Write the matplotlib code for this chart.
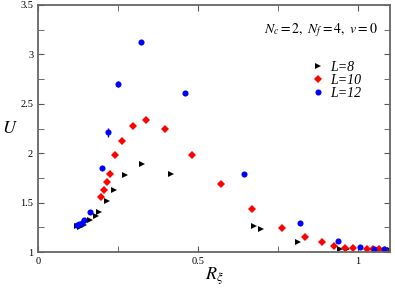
import matplotlib.pyplot as plt
from matplotlib.ticker import MultipleLocator, FormatStrFormatter
from matplotlib.lines import Line2D

# L=8 (black triangles)
x8 = [0.122, 0.131, 0.144, 0.162, 0.181, 0.191, 0.216, 0.237, 0.272, 0.324,
      0.415, 0.674, 0.697, 0.813, 0.943, 0.967, 1.1]
y8 = [1.26, 1.25, 1.27, 1.32, 1.364, 1.408, 1.52, 1.627, 1.776, 1.89,
      1.79, 1.262, 1.229, 1.10, 1.035, 1.03, 1.017]

# L=10 (red diamonds)
x10 = [0.198, 0.207, 0.215, 0.225, 0.242, 0.264, 0.296, 0.339, 0.398, 0.48,
       0.572, 0.668, 0.764, 0.833, 0.887, 0.925, 0.96, 0.985, 1.029, 1.047,
       1.065, 1.085]
y10 = [1.56, 1.63, 1.71, 1.79, 1.98, 2.128, 2.28, 2.34, 2.245, 1.98,
       1.688, 1.433, 1.242, 1.147, 1.10, 1.06, 1.045, 1.038, 1.03, 1.028,
       1.027, 1.025]

# L=12 (blue circles)
x12 = [0.121, 0.128, 0.136, 0.144, 0.162, 0.2015, 0.218, 0.25, 0.321, 0.46,
       0.643, 0.819, 0.938, 1.005, 1.05, 1.081]
y12 = [1.27, 1.28, 1.296, 1.32, 1.40, 1.847, 2.21, 2.70, 3.13, 2.61,
       1.786, 1.296, 1.116, 1.05, 1.03, 1.027]
e12 = [0.005, 0.005, 0.005, 0.01, 0.01, 0.02, 0.05, 0.035, 0.02, 0.015,
       0.01, 0.01, 0.005, 0.005, 0.005, 0.005]

labels = ['L=8', 'L=10', 'L=12']

plt.rcParams['font.family'] = ['Liberation Serif', 'DejaVu Serif']
plt.rcParams['mathtext.fontset'] = 'stix'

fig = plt.figure(figsize=(3.95, 2.92), dpi=100)
ax = fig.add_axes([38 / 395, 1 - 252 / 292, 352 / 395, 247 / 292])

ax.plot(x8, y8, '>', color='black', ms=4, mew=0)
ax.plot(x10, y10, 'D', color='red', ms=3.6, mew=0)
ax.errorbar(x12, y12, yerr=e12, fmt='o', color='blue', ms=4.4, mew=0,
            elinewidth=1, capsize=1.2)

ax.set_xlim(0, 1.1)
ax.set_ylim(1, 3.5)
ax.xaxis.set_major_locator(MultipleLocator(0.5))
ax.xaxis.set_minor_locator(MultipleLocator(0.25))
ax.yaxis.set_major_locator(MultipleLocator(0.5))
ax.yaxis.set_minor_locator(MultipleLocator(0.25))
ax.xaxis.set_major_formatter(FormatStrFormatter('%g'))
ax.yaxis.set_major_formatter(FormatStrFormatter('%g'))
ax.tick_params(which='both', direction='in', top=True, right=True,
               labelsize=7.5, color='#555555', length=4)
for s in ax.spines.values():
    s.set_color('#666666')
    s.set_linewidth(1.3)

ax.set_xlabel(r'$R_{\xi}$', fontsize=13, labelpad=0)
ax.set_ylabel('$U$', fontsize=13, rotation=0, va='center')
ax.yaxis.set_label_coords(-0.08, 0.5)

ax.text(0.965, 0.9, r'$\mathit{N_c{=}2,\ N_f{=}4,\ v{=}0}$',
        transform=ax.transAxes, ha='right', va='center', fontsize=10)

handles = [Line2D([], [], ls='', marker='>', color='black', ms=4, mew=0),
           Line2D([], [], ls='', marker='D', color='red', ms=3.6, mew=0),
           Line2D([], [], ls='', marker='o', color='blue', ms=4.4, mew=0)]
ax.legend(handles, labels, loc='upper left', bbox_to_anchor=(0.755, 0.80),
          frameon=False, handletextpad=0.4, labelspacing=0.0,
          handlelength=1.0, borderpad=0,
          prop={'style': 'italic', 'size': 10})

fig.savefig('out.png', dpi=100)
